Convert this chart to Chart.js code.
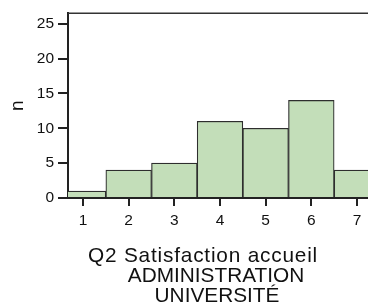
<!DOCTYPE html>
<html>
<head>
<meta charset="utf-8">
<script src="https://cdn.jsdelivr.net/npm/chart.js@4"></script>
<style>
html,body{margin:0;padding:0;background:#fff;overflow:hidden;width:368px;height:306px;}
#wrap{position:absolute;left:0;top:0;width:380px;height:306px;}
</style>
</head>
<body>
<div id="wrap"><canvas id="c"></canvas></div>
<script>
const categories = [1, 2, 3, 4, 5, 6, 7];
const counts = [1, 4, 5, 11, 10, 14, 4];
const yTicks = [0, 5, 10, 15, 20, 25];
const yTitle = 'n';
const xTitleLines = ['Q2 Satisfaction accueil', 'ADMINISTRATION', 'UNIVERSITÉ'];

const FONT = '"Liberation Sans", Arial, Helvetica, sans-serif';

const titlePlugin = {
  id: 'xTitle',
  afterDraw(chart) {
    const ctx = chart.ctx;
    const xs = [203, 216, 217];
    const ys = [262, 282, 301.5];
    const sp = ['0.8px', '0px', '0px'];
    ctx.save();
    ctx.fillStyle = '#111';
    ctx.font = '20.8px ' + FONT;
    ctx.textAlign = 'center';
    ctx.textBaseline = 'alphabetic';
    xTitleLines.forEach((t, i) => {
      ctx.letterSpacing = sp[i];
      ctx.fillText(t, xs[i], ys[i]);
    });
    ctx.restore();
  }
};

const topBorder = {
  id: 'topBorder',
  afterDatasetsDraw(chart) {
    const {ctx, chartArea} = chart;
    ctx.save();
    ctx.strokeStyle = '#333';
    ctx.lineWidth = 1.6;
    ctx.beginPath();
    ctx.moveTo(chartArea.left, chartArea.top);
    ctx.lineTo(chart.width, chartArea.top);
    ctx.stroke();
    ctx.restore();
  }
};

new Chart(document.getElementById('c'), {
  type: 'bar',
  data: {
    datasets: [{
      data: categories.map((c, i) => ({x: c, y: counts[i]})),
      backgroundColor: '#c3deb9',
      borderColor: '#2e2e2e',
      borderWidth: 1.2,
      barPercentage: 1,
      categoryPercentage: 1,
      clip: 0
    }]
  },
  options: {
    responsive: true,
    maintainAspectRatio: false,
    animation: false,
    devicePixelRatio: 1,
    layout: {padding: {top: 13, right: 8, left: 0, bottom: 0}},
    plugins: {legend: {display: false}, tooltip: {enabled: false}},
    scales: {
      x: {
        type: 'linear',
        offset: false,
        min: 0.671,
        max: 7.329,
        afterBuildTicks(s) { s.ticks = categories.map(v => ({value: v})); },
        afterFit(s) { s.height = 108; },
        grid: {offset: false, drawOnChartArea: false, drawTicks: true, tickLength: 8, color: '#222', lineWidth: 2},
        border: {display: true, color: '#222', width: 2},
        ticks: {font: {size: 15.5, family: FONT}, color: '#111', padding: 5, maxRotation: 0}
      },
      y: {
        min: 0,
        max: 26.5,
        afterBuildTicks(s) { s.ticks = yTicks.map(v => ({value: v})); },
        afterFit(s) { s.width = 68; },
        grid: {drawOnChartArea: false, drawTicks: true, tickLength: 10, color: '#222', lineWidth: 2},
        border: {display: true, color: '#222', width: 2},
        ticks: {font: {size: 15.5, family: FONT}, color: '#111', padding: 4},
        title: {display: true, text: yTitle, font: {size: 19, family: FONT}, color: '#111', padding: {top: 6, bottom: 0}}
      }
    }
  },
  plugins: [topBorder, titlePlugin]
});
</script>
</body>
</html>
